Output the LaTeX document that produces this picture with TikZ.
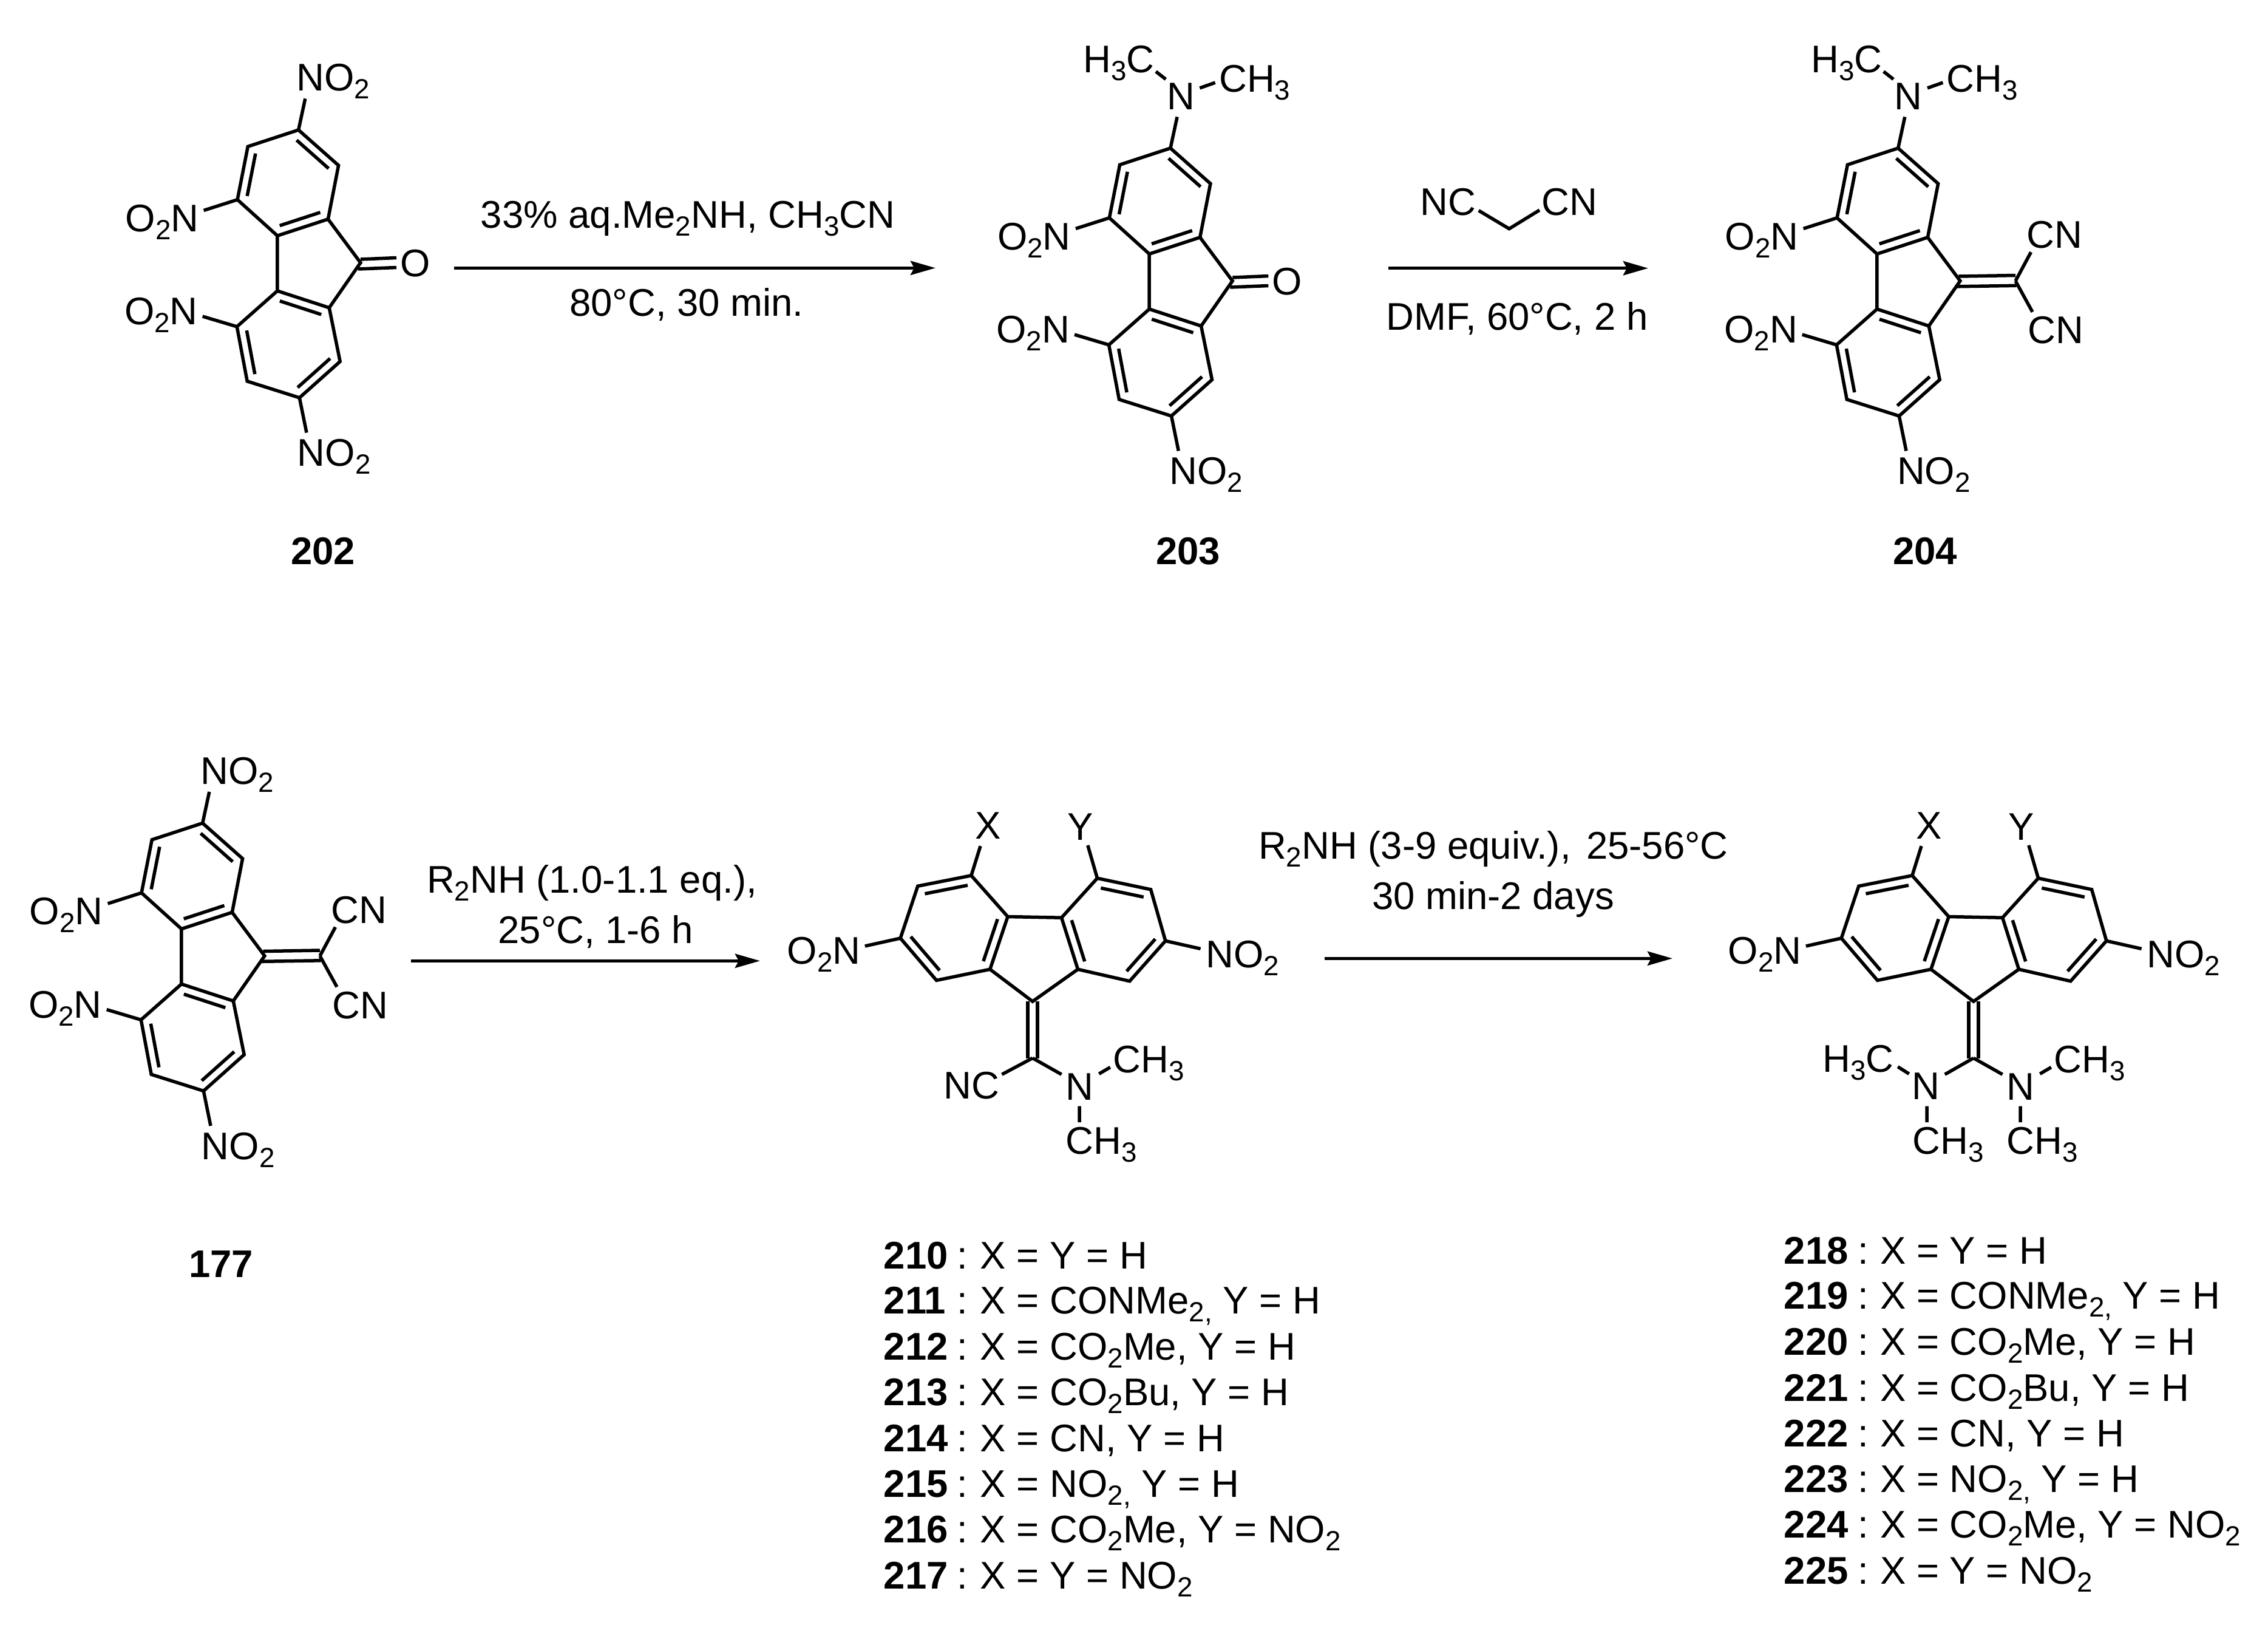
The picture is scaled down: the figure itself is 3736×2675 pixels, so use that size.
\documentclass[tikz,border=0pt]{standalone}
\usepackage{fontspec}
\setmainfont{Liberation Sans}
\usetikzlibrary{calc,arrows.meta}
\newcommand\sbs[1]{\raisebox{-0.13cm}{\fontsize{13pt}{13pt}\selectfont #1}}
\newcommand\Ntwo{NO\sbs{2}}
\newcommand\Otwo{O\sbs{2}N}
\newcommand\Mth{CH\sbs{3}}
\tikzset{
  bnd/.style={line width=0.055cm,line cap=butt,line join=miter},
  rxn/.style={line width=0.055cm,-{Stealth[length=0.41cm,width=0.23cm,inset=0.06cm]}},
  lab/.style={inner sep=0pt,anchor=base,font=\fontsize{18.05pt}{20pt}\selectfont},
  labw/.style={lab,anchor=base west},
  num/.style={inner sep=0pt,anchor=base,font=\fontsize{18.05pt}{20pt}\selectfont\bfseries},
  numw/.style={num,anchor=base west}
}
\newcommand\dbl[2]{\draw[bnd] ($(#1)!.1!(#2)!0.146cm!90:(#2)$) -- ($(#2)!.1!(#1)!0.146cm!-90:(#1)$);}
% ---- tetra-substituted fluorene, standing, in the frame of 202
\newcommand\tetra[1]{%
  \coordinate (#1a) at (491.7,214);
  \coordinate (#1b) at (557.6,272.4);
  \coordinate (#1c) at (540.4,360.9);
  \coordinate (#1d) at (456.9,388.2);
  \coordinate (#1e) at (391.1,328.8);
  \coordinate (#1f) at (408.3,241.3);
  \coordinate (#1g) at (456.9,479);
  \coordinate (#1h) at (542.3,506.8);
  \coordinate (#1i) at (560.2,595.3);
  \coordinate (#1j) at (493.3,655);
  \coordinate (#1k) at (407.2,627.8);
  \coordinate (#1l) at (390.3,537.9);
  \coordinate (#1q) at (593.9,432.6);
  \draw[bnd] (#1a)--(#1b)--(#1c)--(#1d)--(#1e)--(#1f)--cycle;
  \draw[bnd] (#1g)--(#1h)--(#1i)--(#1j)--(#1k)--(#1l)--cycle;
  \draw[bnd] (#1d)--(#1g) (#1c)--(#1q)--(#1h);
  \dbl{#1b}{#1a}\dbl{#1f}{#1e}\dbl{#1d}{#1c}
  \dbl{#1h}{#1g}\dbl{#1l}{#1k}\dbl{#1j}{#1i}
  \node[lab] (#1no) at (267,381) {\Otwo};
  \node[lab] (#1nu) at (265.5,534.5) {\Otwo};
  \node[lab] (#1nb) at (550.3,767.5) {\Ntwo};
  \coordinate (#1so) at (335.6,346.5);
  \coordinate (#1su) at (333.7,521);
  \coordinate (#1sb) at (505,712.5);
  \coordinate (#1st) at (502.8,162.4);
  \draw[bnd] (#1e)--(#1so) (#1l)--(#1su) (#1j)--(#1sb) (#1a)--(#1st);
}
\newcommand\topnitro[1]{\node[lab] (#1nt) at (548.5,149.5) {\Ntwo};}
\newcommand\topamine[1]{%
  \node[lab] (#1N) at (508.7,150.5) {N};
  \node[lab] (#1m1) at (406.7,89) {H\sbs{3}C};
  \node[lab] (#1m2) at (630.4,121.4) {\Mth};
  \coordinate (#1m1a) at (484,100.5); \coordinate (#1m1b) at (467.7,87.8);
  \coordinate (#1m2a) at (540,115);   \coordinate (#1m2b) at (565.4,106);
  \draw[bnd] (#1m1a)--(#1m1b) (#1m2a)--(#1m2b);
}
\newcommand\ketone[1]{%
  \node[lab] (#1O) at (683.9,455.6) {O};
  \coordinate (#1k1a) at (594,427); \coordinate (#1k1b) at (653,424.5);
  \coordinate (#1k2a) at (590,443); \coordinate (#1k2b) at (653,440.5);
  \draw[bnd] (#1k1a)--(#1k1b) (#1k2a)--(#1k2b);
}
\newcommand\dicyano[1]{%
  \coordinate (#1r) at (685,432.7);
  \coordinate (#1r1a) at (591.3,425); \coordinate (#1r1b) at (685,423.5);
  \coordinate (#1r2a) at (589,441.8); \coordinate (#1r2b) at (686.4,440.3);
  \coordinate (#1c1) at (710.5,385.2); \coordinate (#1c2) at (713,483.7);
  \draw[bnd] (#1r1a)--(#1r1b) (#1r2a)--(#1r2b) (#1r)--(#1c1) (#1r)--(#1c2);
  \node[lab] (#1cn1) at (749.4,378.6) {CN};
  \node[lab] (#1cn2) at (751.5,535.7) {CN};
}
% ---- lying fluorene, in the frame of 210
\newcommand\lying[1]{%
  \coordinate (#1q) at (1700.9,1649.1);
  \coordinate (#1p) at (1630.8,1596.2);
  \coordinate (#1P) at (1775.5,1596.2);
  \coordinate (#1r) at (1660,1509.5);
  \coordinate (#1s) at (1748.6,1511.2);
  \coordinate (#1t) at (1599.9,1441.8);
  \coordinate (#1u) at (1511.8,1459.2);
  \coordinate (#1v) at (1483.2,1545);
  \coordinate (#1w) at (1542.6,1614.4);
  \coordinate (#1T) at (1807.5,1446.2);
  \coordinate (#1U) at (1895.6,1464.8);
  \coordinate (#1V) at (1919.8,1549.4);
  \coordinate (#1W) at (1860.8,1615.7);
  \coordinate (#1z) at (1700.9,1742.4);
  \draw[bnd] (#1t)--(#1u)--(#1v)--(#1w)--(#1p)--(#1r)--cycle;
  \draw[bnd] (#1s)--(#1P)--(#1W)--(#1V)--(#1U)--(#1T)--cycle;
  \draw[bnd] (#1r)--(#1s) (#1p)--(#1q)--(#1P);
  \dbl{#1t}{#1u}\dbl{#1v}{#1w}\dbl{#1p}{#1r}
  \dbl{#1s}{#1P}\dbl{#1W}{#1V}\dbl{#1U}{#1T}
  \coordinate (#1za) at (1693,1649); \coordinate (#1zb) at (1693,1743);
  \coordinate (#1zc) at (1709,1649); \coordinate (#1zd) at (1709,1743);
  \draw[bnd] (#1za)--(#1zb) (#1zc)--(#1zd);
  \node[lab] (#1X) at (1628,1381) {X};
  \node[lab] (#1Y) at (1779.5,1383) {Y};
  \node[lab] (#1no) at (1357,1587.5) {\Otwo};
  \node[lab] (#1nr) at (2047,1593.6) {\Ntwo};
  \coordinate (#1sx) at (1615,1393.2);
  \coordinate (#1sy) at (1791.8,1392);
  \coordinate (#1so) at (1424.8,1558);
  \coordinate (#1sr) at (1977.6,1562.4);
  \draw[bnd] (#1t)--(#1sx) (#1T)--(#1sy) (#1v)--(#1so) (#1V)--(#1sr);
  % right-hand dimethylamino group
  \node[lab] (#1N) at (1778.2,1811) {N};
  \node[lab] (#1m1) at (1892.5,1766) {\Mth};
  \node[lab] (#1m2) at (1814,1900.7) {\Mth};
  \coordinate (#1na) at (1748.6,1769.3);
  \coordinate (#1m1a) at (1810.3,1768.4); \coordinate (#1m1b) at (1828.8,1757.5);
  \coordinate (#1m2a) at (1778.2,1821.7); \coordinate (#1m2b) at (1778.2,1848);
  \draw[bnd] (#1z)--(#1na) (#1m1a)--(#1m1b) (#1m2a)--(#1m2b);
}
\newcommand\row[7]{% prefix, x number, x colon, x text, baseline, number, text
  \node[numw] (#1n) at (#2,#5) {#6};
  \node[lab] (#1c) at (#3,#5) {:};
  \node[labw] (#1t) at (#4,#5) {#7};
}
\begin{document}
\begin{tikzpicture}[x=0.01cm,y=-0.01cm]
\useasboundingbox (0,0) rectangle (3736,2675);
% ---- top row
\begin{scope}[shift={(0,0)}]\tetra{A}\topnitro{A}\ketone{A}\end{scope}
\begin{scope}[shift={(1436.3,30)}]\tetra{B}\topamine{B}\ketone{B}\end{scope}
\begin{scope}[shift={(2635,30)}]\tetra{C}\topamine{C}\dicyano{C}\end{scope}
\node[num] (n202) at (532,929) {202};
\node[num] (n203) at (1957,929) {203};
\node[num] (n204) at (3171,929) {204};
% first arrow
\coordinate (a1s) at (748,441.3); \coordinate (a1e) at (1541,441.3);
\draw[rxn] (a1s)--(a1e);
\node[lab] (t1a) at (1133,375) {33\% aq.Me\sbs{2}NH, CH\sbs{3}CN};
\node[lab] (t1b) at (1131,520.7) {80°C, 30 min.};
% second arrow
\coordinate (a2s) at (2286.7,441.7); \coordinate (a2e) at (2715,441.7);
\draw[rxn] (a2s)--(a2e);
\node[lab] (t2a) at (2385,354) {NC};
\node[lab] (t2b) at (2585,354) {CN};
\coordinate (m1) at (2435.7,346.7); \coordinate (m2) at (2486,376.7); \coordinate (m3) at (2536,346);
\draw[bnd] (m1)--(m2)--(m3);
\node[lab] (t2c) at (2499,543.3) {DMF, 60°C, 2 h};
% ---- bottom row
\begin{scope}[shift={(-158,1141.5)}]\tetra{D}\topnitro{D}\dicyano{D}\end{scope}
\node[num] (n177) at (364,2103) {177};
\coordinate (a3s) at (677,1582.3); \coordinate (a3e) at (1252,1582.3);
\draw[rxn] (a3s)--(a3e);
\node[lab] (t3a) at (975,1470.7) {R\sbs{2}NH (1.0-1.1 eq.),};
\node[lab] (t3b) at (981.4,1553.3) {25°C, 1-6 h};
\begin{scope}\lying{E}
  \node[lab] (Enc) at (1600,1809.6) {NC};
  \coordinate (Esn) at (1650.4,1769.3);
  \draw[bnd] (Ez)--(Esn);
\end{scope}
\coordinate (a4s) at (2181.6,1578.3); \coordinate (a4e) at (2755,1578.3);
\draw[rxn] (a4s)--(a4e);
\node[lab] (t4a) at (2460,1414) {R\sbs{2}NH (3-9 equiv.),\ \kern0.08cm 25-56°C};
\node[lab] (t4b) at (2459.5,1497.3) {30 min-2 days};
\begin{scope}[shift={(1550,0)}]\lying{F}
  \node[lab] (Fl) at (1622.8,1810.5) {N};
  \node[lab] (Fm3) at (1510.8,1765) {H\sbs{3}C};
  \node[lab] (Fm4) at (1659.2,1900.7) {\Mth};
  \coordinate (Fsl) at (1653.7,1769.3);
  \coordinate (Fm3a) at (1576.2,1756.7); \coordinate (Fm3b) at (1594.7,1768.4);
  \coordinate (Fm4a) at (1624,1821.7);  \coordinate (Fm4b) at (1624,1848);
  \draw[bnd] (Fz)--(Fsl) (Fm3a)--(Fm3b) (Fm4a)--(Fm4b);
\end{scope}
% ---- lists
\row{r210}{1455}{1585.7}{1614}{2089.2}{210}{X = Y = H}
\row{r211}{1455}{1585.7}{1614}{2163.9}{211}{X = CONMe\sbs{2,} Y = H}
\row{r212}{1455}{1585.7}{1614}{2239.4}{212}{X = CO\sbs{2}Me, Y = H}
\row{r213}{1455}{1585.7}{1614}{2314.5}{213}{X = CO\sbs{2}Bu, Y = H}
\row{r214}{1455}{1585.7}{1614}{2390}{214}{X = CN, Y = H}
\row{r215}{1455}{1585.7}{1614}{2465}{215}{X = NO\sbs{2,} Y = H}
\row{r216}{1455}{1585.7}{1614}{2540.2}{216}{X = CO\sbs{2}Me, Y = NO\sbs{2}}
\row{r217}{1455}{1585.7}{1614}{2616.5}{217}{X = Y = NO\sbs{2}}
\row{r218}{2938}{3069.4}{3096.5}{2081.2}{218}{X = Y = H}
\row{r219}{2938}{3069.4}{3096.5}{2155.5}{219}{X = CONMe\sbs{2,} Y = H}
\row{r220}{2938}{3069.4}{3096.5}{2231}{220}{X = CO\sbs{2}Me, Y = H}
\row{r221}{2938}{3069.4}{3096.5}{2307}{221}{X = CO\sbs{2}Bu, Y = H}
\row{r222}{2938}{3069.4}{3096.5}{2382}{222}{X = CN, Y = H}
\row{r223}{2938}{3069.4}{3096.5}{2457.6}{223}{X = NO\sbs{2,} Y = H}
\row{r224}{2938}{3069.4}{3096.5}{2532}{224}{X = CO\sbs{2}Me, Y = NO\sbs{2}}
\row{r225}{2938}{3069.4}{3096.5}{2608.6}{225}{X = Y = NO\sbs{2}}
\end{tikzpicture}
\end{document}
